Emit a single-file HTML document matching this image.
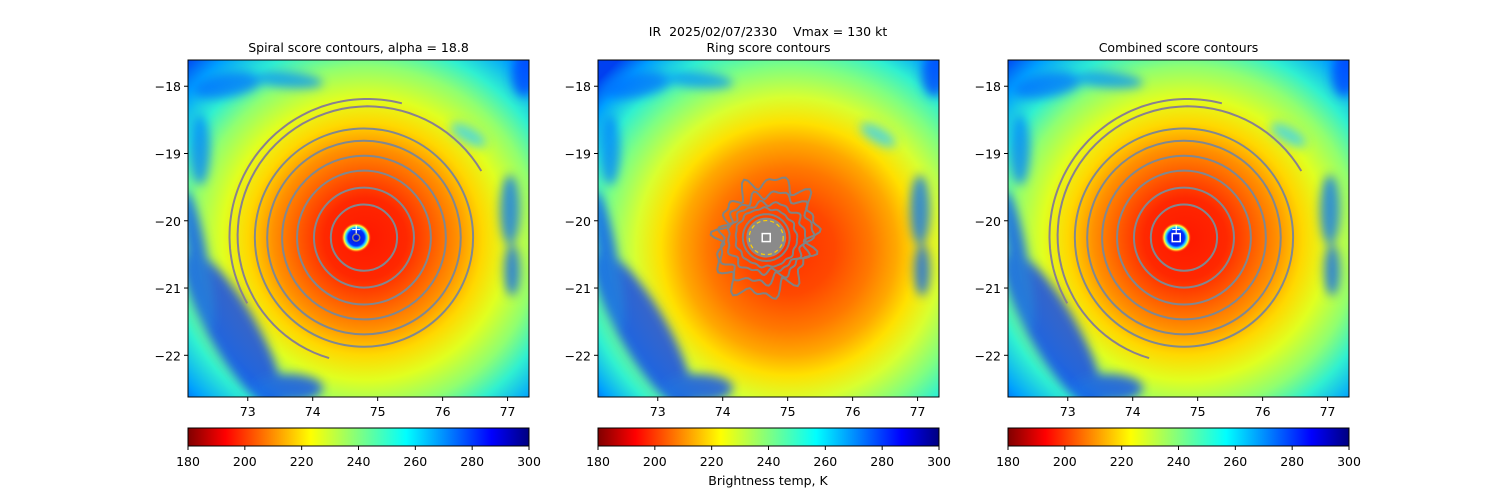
<!DOCTYPE html>
<html><head><meta charset="utf-8">
<style>
body{margin:0;background:#fff;}
svg{display:block;font-family:"DejaVu Sans","Liberation Sans",sans-serif;}
</style></head>
<body>
<svg id="fig" width="1500" height="500" viewBox="0 0 1500 500">
<defs>
<radialGradient id="bgSpiral" cx="0.52" cy="0.53" r="0.75">
<stop offset="0" stop-color="#ff1800"/>
<stop offset="0.16" stop-color="#ff2800"/>
<stop offset="0.24" stop-color="#ff5000"/>
<stop offset="0.36" stop-color="#ff9000"/>
<stop offset="0.46" stop-color="#ffd800"/>
<stop offset="0.56" stop-color="#e0ff20"/>
<stop offset="0.68" stop-color="#90ff70"/>
<stop offset="0.78" stop-color="#30f0d0"/>
<stop offset="0.9" stop-color="#00a0ff"/>
<stop offset="1" stop-color="#0040f0"/>
</radialGradient>
<radialGradient id="bgRing" cx="0.56" cy="0.56" r="0.75">
<stop offset="0" stop-color="#ff3000"/>
<stop offset="0.18" stop-color="#ff4800"/>
<stop offset="0.32" stop-color="#ff7800"/>
<stop offset="0.42" stop-color="#ffa800"/>
<stop offset="0.5" stop-color="#ffe000"/>
<stop offset="0.6" stop-color="#d8ff30"/>
<stop offset="0.72" stop-color="#80ff80"/>
<stop offset="0.82" stop-color="#30f0d0"/>
<stop offset="0.92" stop-color="#00a0ff"/>
<stop offset="1" stop-color="#0040f0"/>
</radialGradient>
<radialGradient id="eye">
<stop offset="0" stop-color="#0010d0"/>
<stop offset="0.55" stop-color="#0030ff"/>
<stop offset="0.7" stop-color="#30e0ff"/>
<stop offset="0.82" stop-color="#ffff30"/>
<stop offset="1" stop-color="#ff2000" stop-opacity="0"/>
</radialGradient>
<linearGradient id="jetr" x1="0" x2="1" y1="0" y2="0">
<stop offset="0" stop-color="#800000"/>
<stop offset="0.11" stop-color="#ff0000"/>
<stop offset="0.36" stop-color="#ffff00"/>
<stop offset="0.5" stop-color="#80ff80"/>
<stop offset="0.64" stop-color="#00ffff"/>
<stop offset="0.89" stop-color="#0000ff"/>
<stop offset="1" stop-color="#000080"/>
</linearGradient>
<filter id="blur" x="-50%" y="-50%" width="200%" height="200%"><feGaussianBlur stdDeviation="5"/></filter>
</defs>
<text x="768" y="36" text-anchor="middle" font-size="12.5" xml:space="preserve" style="white-space:pre">IR  2025/02/07/2330    Vmax = 130 kt</text>
<text x="768" y="485" text-anchor="middle" font-size="12.5">Brightness temp, K</text>
</svg>
<script>
// data
const xTicks = [73, 74, 75, 76, 77];
const yTicks = [-18, -19, -20, -21, -22];
const cbTicks = [180, 200, 220, 240, 260, 280, 300];
const centerLon = 74.82, centerLat = -20.25;
const eyeLon = 74.67;
const circleRadiiDeg = [0.51, 0.77, 1.03, 1.26, 1.49, 1.68];
// spiral arms: [startAngleDeg, endAngleDeg, startRadiusDeg, endRadiusDeg]
const armStartAng = [-75, -30];
const armEndAng = [-209, -253];
const armStartR = [2.14, 2.05];
const armEndR = [2.09, 1.94];
const ringRadiiDeg = [0.36, 0.46, 0.56, 0.68, 0.8];
const titles = ["Spiral score contours, alpha = 18.8", "Ring score contours", "Combined score contours"];
const panelX = [188, 598, 1008];
// cold (blue/cyan) cloud patches, panel-relative [x, y, rx, ry, rotation, color]
const patches = [
  [45, 270, 24, 90, -30, '#0030ff'], [10, 200, 10, 70, -10, '#0050ff'], [100, 328, 35, 14, 0, '#0040ff'],
  [40, 25, 35, 12, -10, '#0070ff'], [100, 20, 35, 8, 5, '#0090ff'], [12, 90, 10, 35, 0, '#0080ff'],
  [322, 150, 10, 35, 0, '#0070ff'], [324, 210, 8, 26, 0, '#0060ff'], [336, 15, 12, 22, 0, '#0040ff'],
  [280, 75, 20, 8, 30, '#30d0ff']
];

const xmin = 72.08, xmax = 77.33, ymax = -17.61, ymin = -22.62;
const PW = 341, PT = 60, PH = 337;
const svg = document.getElementById('fig');
const NS = 'http://www.w3.org/2000/svg';
function mk(tag, attrs, parent) { const e = document.createElementNS(NS, tag); for (const k in attrs) e.setAttribute(k, attrs[k]); (parent || svg).appendChild(e); return e; }

panelX.forEach((px, p) => {
  const sx = v => px + (v - xmin) / (xmax - xmin) * PW;
  const sy = v => PT + (ymax - v) / (ymax - ymin) * PH;
  const kx = PW / (xmax - xmin);
  const g = mk('g', {});
  
  
  const clipId = 'clip' + p;
  const cp = mk('clipPath', { id: clipId }, g);
  mk('rect', { x: px, y: PT, width: PW, height: PH }, cp);
  const img = mk('g', { 'clip-path': 'url(#' + clipId + ')' }, g);
  const bg = mk('rect', { x: px, y: PT, width: PW, height: PH, fill: p === 1 ? 'url(#bgRing)' : 'url(#bgSpiral)' }, img);
  
  
  const pg = mk('g', { filter: 'url(#blur)', opacity: 0.75 }, img);
  patches.forEach(q => {
    mk('ellipse', { cx: px + q[0], cy: PT + q[1], rx: q[2], ry: q[3], fill: q[5], transform: `rotate(${q[4]} ${px + q[0]} ${PT + q[1]})` }, pg);
  });
  const cx = sx(centerLon), cy = sy(centerLat);
  const ex = sx(eyeLon);
  if (p !== 1) {
    const eye = mk('circle', { cx: ex, cy: cy, r: 15, fill: 'url(#eye)' }, img);
    
    
    circleRadiiDeg.forEach(r => {
      const c = mk('circle', { cx: cx - 2, cy: cy, r: r * kx, fill: 'none', stroke: '#808890', 'stroke-width': 2 }, img);
      
      
    });
    armStartAng.forEach((a0, i) => {
      const a1 = armEndAng[i], r0 = armStartR[i], r1 = armEndR[i];
      let d = '';
      for (let k = 0; k <= 60; k++) {
        const t = k / 60, a = (a0 + (a1 - a0) * t) * Math.PI / 180, r = r0 + (r1 - r0) * t;
        d += (k ? 'L' : 'M') + (cx + r * kx * Math.cos(a)).toFixed(1) + ',' + (cy + r * kx * Math.sin(a)).toFixed(1);
      }
      const pa = mk('path', { d: d, fill: 'none', stroke: '#888090', 'stroke-width': 2 }, img);
      
      
    });
    mk('path', { d: `M${ex - 4},${cy - 8}h8M${ex},${cy - 12}v8`, stroke: '#fff', 'stroke-width': 1.2 }, img);
    if (p === 0) mk('circle', { cx: ex, cy: cy, r: 3.5, fill: 'none', stroke: '#888', 'stroke-width': 1.5 }, img);
    if (p === 2) mk('rect', { x: ex - 4, y: cy - 4, width: 8, height: 8, fill: 'none', stroke: '#fff', 'stroke-width': 1.5 }, img);
  } else {
    const blob = mk('circle', { cx: ex, cy: cy, r: 20, fill: '#8a8a8a' }, img);
    
    
    ringRadiiDeg.forEach((r, i) => {
      let d = '';
      for (let k = 0; k <= 120; k++) {
        const a = k / 120 * Math.PI * 2;
        const rr = r * (1 + 0.025 * i * Math.sin(a * 11 + i) + 0.02 * i * Math.cos(a * 17 + i * 2) + 0.03 * i * Math.sin(a * 2 + i));
        d += (k ? 'L' : 'M') + (ex + rr * kx * Math.cos(a)).toFixed(1) + ',' + (cy + rr * kx * Math.sin(a)).toFixed(1);
      }
      const pa = mk('path', { d: d, fill: 'none', stroke: '#808484', 'stroke-width': 2 }, img);
      
      
    });
    mk('circle', { cx: ex, cy: cy, r: 17, fill: 'none', stroke: '#ffd000', 'stroke-width': 1.2, 'stroke-dasharray': '4,3' }, img);
    mk('rect', { x: ex - 4, y: cy - 4, width: 8, height: 8, fill: 'none', stroke: '#fff', 'stroke-width': 1.5 }, img);
  }
  mk('rect', { x: px, y: PT, width: PW, height: PH, fill: 'none', stroke: '#000', 'stroke-width': 1 }, g);
  const t = mk('text', { x: px + PW / 2, y: 52, 'text-anchor': 'middle', 'font-size': 12.5 }, g);
  t.textContent = titles[p];
  
  
  xTicks.forEach(v => {
    const x = sx(v);
    mk('line', { x1: x, x2: x, y1: PT + PH, y2: PT + PH + 4, stroke: '#000' }, g);
    const tx = mk('text', { x: x, y: PT + PH + 19, 'text-anchor': 'middle', 'font-size': 12.5 }, g);
    tx.textContent = v;
    
    
  });
  yTicks.forEach(v => {
    const y = sy(v);
    mk('line', { x1: px - 4, x2: px, y1: y, y2: y, stroke: '#000' }, g);
    const ty = mk('text', { x: px - 7, y: y + 5, 'text-anchor': 'end', 'font-size': 12.5 }, g);
    ty.textContent = '\u2212' + Math.abs(v);
    
    
  });
  const cb = mk('rect', { x: px, y: 428, width: PW, height: 18, fill: 'url(#jetr)', stroke: '#000', 'stroke-width': 1 }, g);
  
  
  cbTicks.forEach(v => {
    const x = px + (v - 180) / 120 * PW;
    mk('line', { x1: x, x2: x, y1: 446, y2: 450, stroke: '#000' }, g);
    const tc = mk('text', { x: x, y: 466, 'text-anchor': 'middle', 'font-size': 12.5 }, g);
    tc.textContent = v;
    
    
  });
});
</script>
</body></html>
